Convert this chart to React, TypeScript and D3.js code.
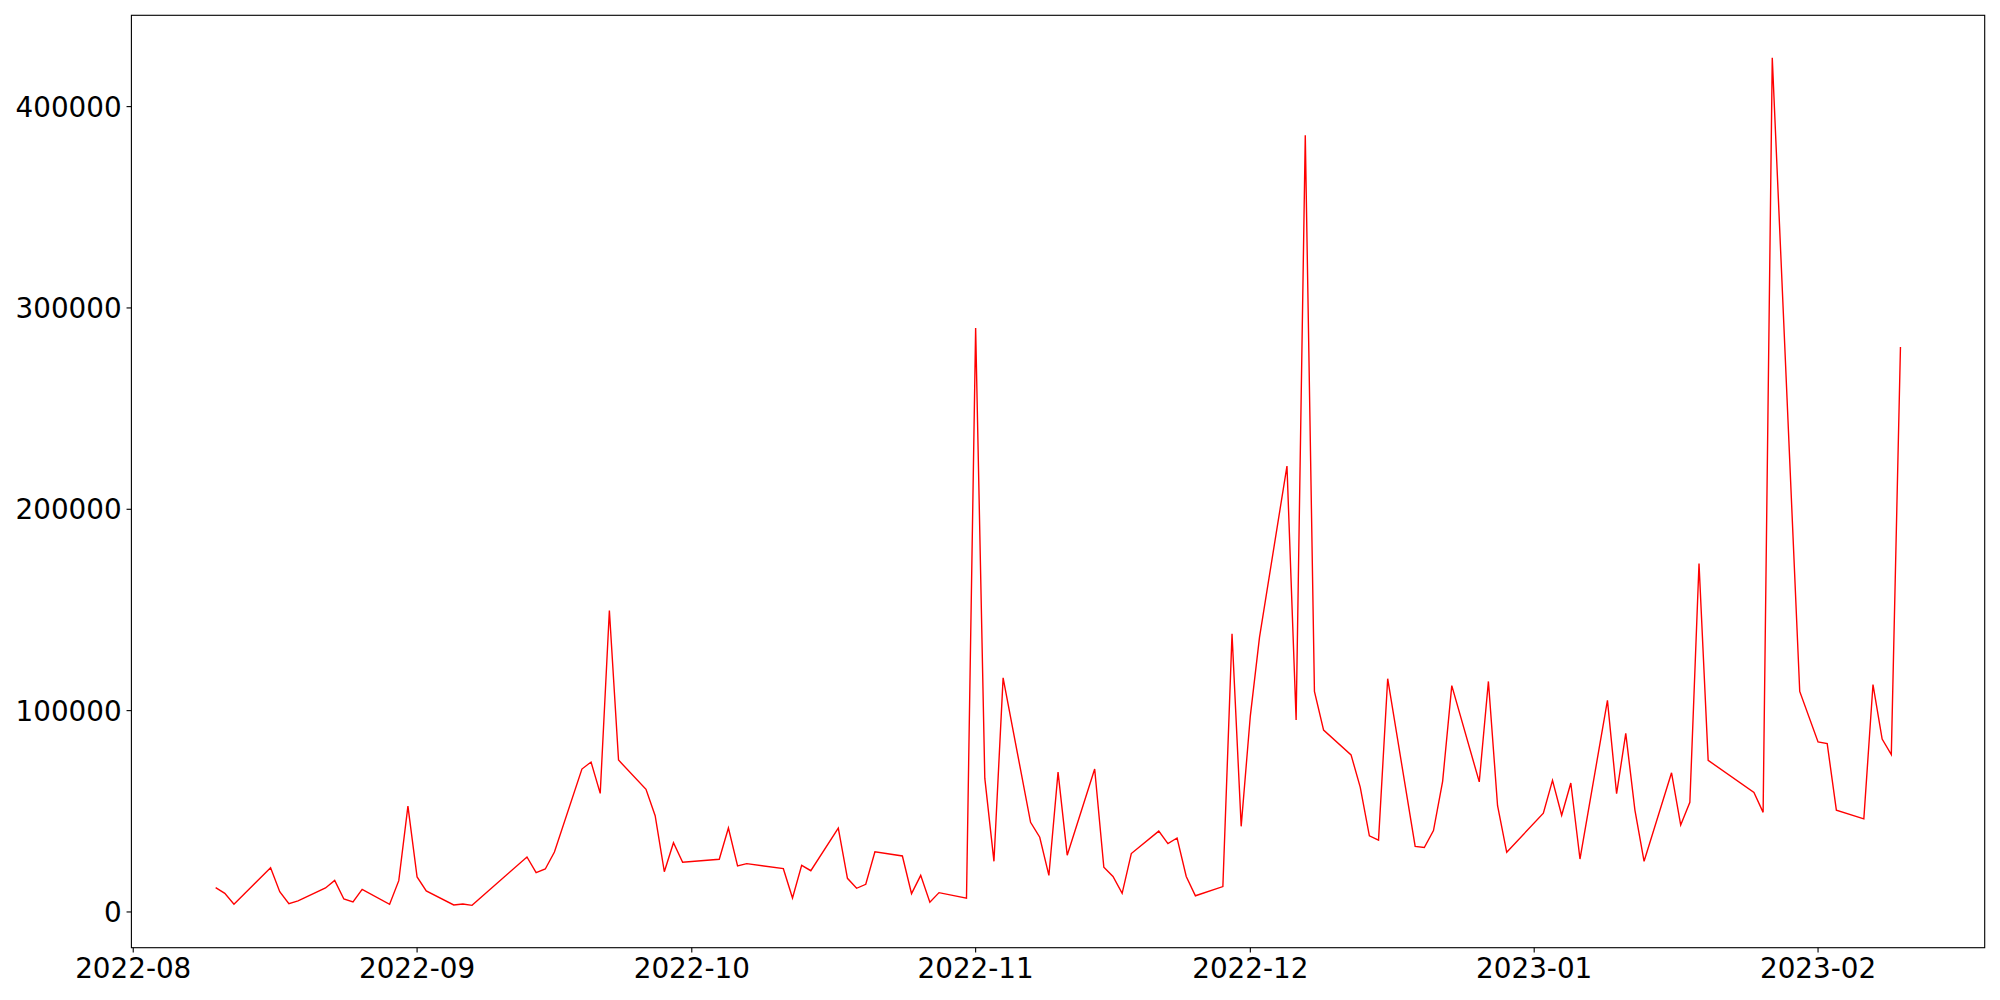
import React from "react";
import * as d3 from "d3";

const dates: string[] = [
  "2022-08-10","2022-08-11","2022-08-12","2022-08-16","2022-08-17","2022-08-18","2022-08-19","2022-08-22","2022-08-23","2022-08-24","2022-08-25","2022-08-26","2022-08-29","2022-08-30","2022-08-31",
  "2022-09-01","2022-09-02","2022-09-05","2022-09-06","2022-09-07","2022-09-13","2022-09-14","2022-09-15","2022-09-16","2022-09-19","2022-09-20","2022-09-21","2022-09-22","2022-09-23","2022-09-26","2022-09-27","2022-09-28","2022-09-29","2022-09-30",
  "2022-10-04","2022-10-05","2022-10-06","2022-10-07","2022-10-11","2022-10-12","2022-10-13","2022-10-14","2022-10-17","2022-10-18","2022-10-19","2022-10-20","2022-10-21","2022-10-24","2022-10-25","2022-10-26","2022-10-27","2022-10-28","2022-10-31",
  "2022-11-01","2022-11-02","2022-11-03","2022-11-04","2022-11-07","2022-11-08","2022-11-09","2022-11-10","2022-11-11","2022-11-14","2022-11-15","2022-11-16","2022-11-17","2022-11-18","2022-11-21","2022-11-22","2022-11-23","2022-11-24","2022-11-25","2022-11-28","2022-11-29","2022-11-30",
  "2022-12-01","2022-12-02","2022-12-05","2022-12-06","2022-12-07","2022-12-08","2022-12-09","2022-12-12","2022-12-13","2022-12-14","2022-12-15","2022-12-16","2022-12-19","2022-12-20","2022-12-21","2022-12-22","2022-12-23","2022-12-26","2022-12-27","2022-12-28","2022-12-29",
  "2023-01-02","2023-01-03","2023-01-04","2023-01-05","2023-01-06","2023-01-09","2023-01-10","2023-01-11","2023-01-12","2023-01-13","2023-01-16","2023-01-17","2023-01-18","2023-01-19","2023-01-20","2023-01-25","2023-01-26","2023-01-27","2023-01-30",
  "2023-02-01","2023-02-02","2023-02-03","2023-02-06","2023-02-07","2023-02-08","2023-02-09","2023-02-10"
];

const values: number[] = [
  12060, 9270, 3800, 22000, 10080, 4120, 5460, 11900, 15700, 6450, 4960, 11260, 3800, 15550, 52600,
  17370, 10420, 3470, 3970, 3300, 27300, 19500, 21340, 29780, 70970, 74450, 58900, 149730, 75440, 60900, 47800, 20000, 34400, 24660,
  26150, 41700, 22830, 24000, 21500, 6950, 23170, 20500, 41700, 16700, 11760, 13740, 29930, 27800, 9080, 18200, 4800, 9600, 6800,
  290000, 66450, 25160, 116280, 44500, 37120, 18200, 69430, 28200, 71020, 22180, 17620, 9230, 29000, 40150, 33950, 36730, 17620, 8040, 12600, 138200, 42530,
  97430, 136340, 221450, 95340, 385800, 109530, 90330, 78020, 61990, 37820, 35680, 115840, 32560, 32010, 40450, 64870, 112400, 64620, 114500, 52760, 29630,
  49080, 65360, 48040, 64070, 26300, 105060, 58720, 88680, 50620, 25160, 69140, 43180, 54440, 173060, 75290, 59400, 49480, 424300, 109530,
  84470, 83580, 50570, 46260, 112960, 85860, 78170, 280600
];

const yTicks: number[] = [0, 100000, 200000, 300000, 400000];

const W = 2000;
const H = 1000;
const left = 131.4;
const right = 1984.7;
const top = 15.3;
const bottom = 947.7;
const fontSize = 27.8;
const tickLen = 4.86;
const pad = 4.86;

export default function App() {
  const parse = d3.utcParse("%Y-%m-%d");
  const data = dates.map((d, i) => ({ date: parse(d) as Date, value: values[i] }));

  const [x0, x1] = d3.extent(data, (d) => d.date.getTime()) as [number, number];
  const xm = (x1 - x0) * 0.05;
  const x = d3.scaleUtc().domain([new Date(x0 - xm), new Date(x1 + xm)]).range([left, right]);

  const [y0, y1] = d3.extent(values) as [number, number];
  const ym = (y1 - y0) * 0.05;
  const y = d3.scaleLinear().domain([y0 - ym, y1 + ym]).range([bottom, top]);

  const line = d3
    .line<{ date: Date; value: number }>()
    .x((d) => x(d.date))
    .y((d) => y(d.value));

  const xTicks = x.ticks(d3.utcMonth.every(1) as any);
  const fmt = d3.utcFormat("%Y-%m");
  const capH = fontSize * 0.729;

  return (
    <svg
      width={W}
      height={H}
      style={{ position: "absolute", left: 0, top: 0, background: "#fff" }}
      fontFamily="'DejaVu Sans', sans-serif"
      fontSize={fontSize}
    >
      <rect x={0} y={0} width={W} height={H} fill="#fff" />
      <path d={line(data) || ""} fill="none" stroke="#ff0000" strokeWidth={1.39} strokeLinejoin="miter" />
      <rect
        x={left}
        y={top}
        width={right - left}
        height={bottom - top}
        fill="none"
        stroke="#000"
        strokeWidth={1.11}
      />
      {yTicks.map((t) => (
        <g key={"y" + t}>
          <line x1={left - tickLen} x2={left} y1={y(t)} y2={y(t)} stroke="#000" strokeWidth={1.11} />
          <text x={left - tickLen - pad} y={y(t) + capH / 2} textAnchor="end" fill="#000">
            {String(t)}
          </text>
        </g>
      ))}
      {xTicks.map((t) => (
        <g key={"x" + t.getTime()}>
          <line x1={x(t)} x2={x(t)} y1={bottom} y2={bottom + tickLen} stroke="#000" strokeWidth={1.11} />
          <text x={x(t)} y={bottom + tickLen + pad + capH} textAnchor="middle" fill="#000">
            {fmt(t)}
          </text>
        </g>
      ))}
    </svg>
  );
}
